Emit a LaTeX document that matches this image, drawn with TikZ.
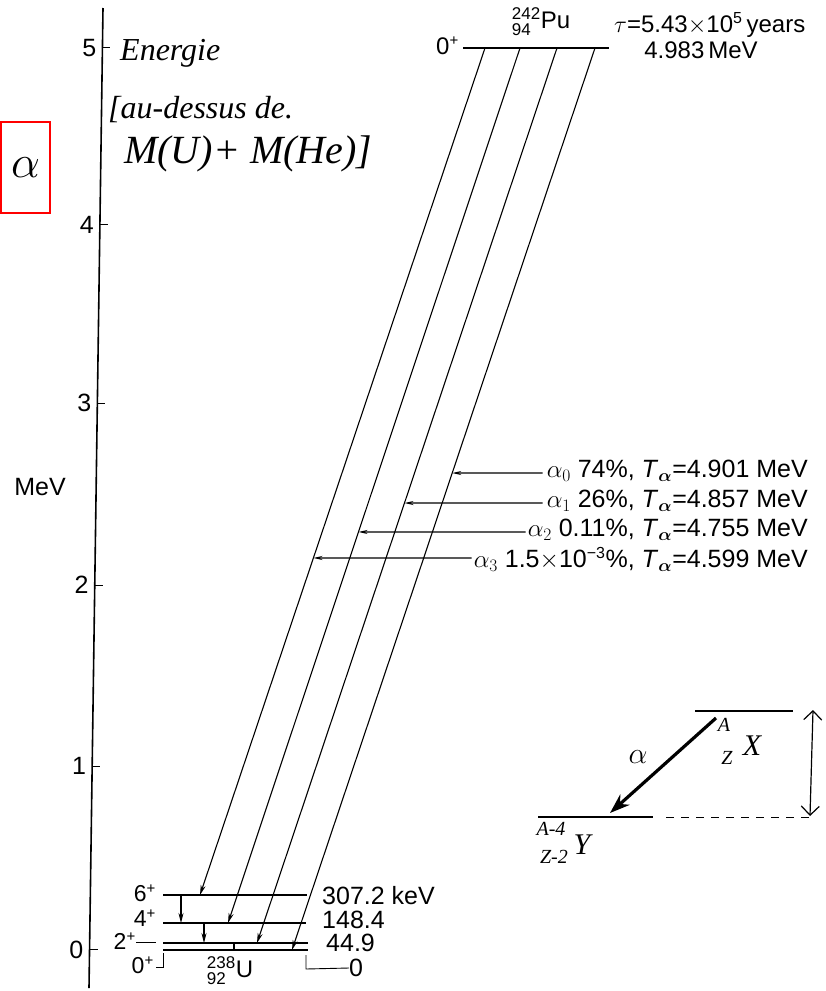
\RequirePackage{fix-cm}
\documentclass[tikz,border=0pt]{standalone}
\usepackage{amsmath}
\usepackage{fontspec}
\setmainfont{Liberation Sans}
\newfontfamily\handfont{Liberation Serif}
\usetikzlibrary{arrows.meta,calc}
\newcommand\fs[1]{\fontsize{#1}{#1}\selectfont}
\newcommand\nucl[3]{$^{\hbox{\fs{17}#1}}_{\hbox{\fs{17}#2}}$#3}
\tikzset{
  lvl/.style={line width=2.2pt},
  decay/.style={line width=1.1pt,-{Stealth[length=10pt,width=5pt]}},
  ann/.style={line width=1.3pt,-{Stealth[length=9pt,width=4pt]}},
  lab/.style={font=\fs{25}, inner sep=0pt},
  alab/.style={font=\fs{25}, inner sep=0pt, anchor=east},
  hand/.style={font=\handfont\itshape, inner sep=0pt},
  tick/.style={line width=1pt}
}
\begin{document}
\begin{tikzpicture}[x=1pt,y=-1pt]
\useasboundingbox (0,0) rectangle (826,991);
% axis
\coordinate (axtop) at (103,8);
\coordinate (axbot) at (89,988);
\draw[line width=1.6pt] (axtop) -- (axbot);
\foreach \t/\v in {0.0408/5,0.2214/4,0.4031/3,0.5888/2,0.7735/1,0.9612/0}{
  \coordinate (tk\v) at ($(axtop)!\t!(axbot)$);
  \draw[tick] (tk\v) -- ++(8,0);
  \node[lab,anchor=east] (tl\v) at ($(tk\v)+(-6,0)$) {\v};
}
\node[lab] (mev) at (40,487) {MeV};
% red box
\node[draw=red,line width=1.8pt,minimum width=49pt,minimum height=91pt,inner sep=0pt] (abox) at (25.5,167.5) {\fontsize{46}{46}\selectfont$\alpha$};
% handwritten
\node[hand,anchor=base west,font=\handfont\itshape\fs{32}] (energie) at (120,60) {Energie};
\node[hand,anchor=base west,font=\handfont\itshape\fs{32}] (audessus) at (108,118) {[au-dessus de.};
\node[hand,anchor=base west,font=\handfont\itshape\fs{40}] (mumhe) at (124,163) {M(U)+ M(He)]};
% Pu level
\coordinate (puL) at (463,48);
\coordinate (puR) at (609,48);
\draw[lvl] (puL) -- (puR);
\node[lab,anchor=east,font=\fs{24}] (pu0p) at (459,46) {0$^{\hbox{\fs{15}+}}$};
\node[lab,font=\fs{24}] (puname) at (541,22) {\nucl{242}{94}{Pu}};
\node[lab,anchor=base west,font=\fs{24}] (tau) at (614,32) {$\tau$=5.43$\times$10$^{\hbox{\fs{16}5}}$\,years};
\node[lab,font=\fs{24}] (puE) at (701,50) {4.983\,MeV};
% U levels
\draw[lvl] (163,895) coordinate (l6L) -- (307,895) coordinate (l6R);
\draw[lvl] (163,923) coordinate (l4L) -- (306,923) coordinate (l4R);
\draw[lvl] (163,943) coordinate (l2L) -- (308,943) coordinate (l2R);
\draw[lvl] (163,950) coordinate (l0L) -- (308,950) coordinate (l0R);
% decay lines
\coordinate (p3) at (485,48); \coordinate (p2) at (520,48);
\coordinate (p1) at (557,48); \coordinate (p0) at (595,48);
\coordinate (e3) at (200,895); \coordinate (e2) at (228,923);
\coordinate (e1) at (257,943); \coordinate (e0) at (292,950);
\draw[decay] (p0) -- (e0);
\draw[decay] (p1) -- (e1);
\draw[decay] (p2) -- (e2);
\draw[decay] (p3) -- (e3);
% gamma transitions
\draw[decay] (181,895) -- (181,923);
\draw[decay] (204,923) -- (204,943);
\draw[line width=1.1pt] (234,943) -- (234,950);
% level labels left
\node[lab,anchor=east,font=\fs{23}] (s6) at (156,893) {6$^{\hbox{\fs{15}+}}$};
\node[lab,anchor=east,font=\fs{23}] (s4) at (156,918) {4$^{\hbox{\fs{15}+}}$};
\node[lab,anchor=east,font=\fs{23}] (s2) at (136,941) {2$^{\hbox{\fs{15}+}}$};
\draw[line width=0.9pt] (s2.east) ++(0,1) -- (156,942);
\node[lab,anchor=east,font=\fs{23}] (s0) at (154,965) {0$^{\hbox{\fs{15}+}}$};
\draw[line width=0.9pt] (163,953) -- (163,967) -- (156,967);
% level labels right
\node[lab,anchor=west] (r6) at (322,896) {307.2 keV};
\node[lab,anchor=west] (r4) at (322,920) {148.4};
\node[lab,anchor=west] (r2) at (326,943) {44.9};
\node[lab,anchor=west] (r0) at (349,968) {0};
\draw[line width=0.9pt] (306,955) -- (306,969) -- (r0.west);
\node[lab,font=\fs{24}] (uname) at (230,971) {\nucl{238}{92}{U}};
% branch annotations
\coordinate (h0) at ($(p0)!0.4712!(e0)$);
\coordinate (h1) at ($(p1)!0.5084!(e1)$);
\coordinate (h2) at ($(p2)!0.5531!(e2)$);
\coordinate (h3) at ($(p3)!0.6021!(e3)$);
\node[alab] (a0) at (808,471) {$\alpha_0$ 74\%, \textit{T}$_{\boldsymbol\alpha}$=4.901 MeV};
\node[alab] (a1) at (808,501) {$\alpha_1$ 26\%, \textit{T}$_{\boldsymbol\alpha}$=4.857 MeV};
\node[alab] (a2) at (808,530) {$\alpha_2$ 0.11\%, \textit{T}$_{\boldsymbol\alpha}$=4.755 MeV};
\node[alab] (a3) at (808,559) {$\alpha_3$ 1.5$\times$10$^{\hbox{\fs{16}\char"2212 3}}$\%, \textit{T}$_{\boldsymbol\alpha}$=4.599 MeV};
\draw[ann] ([xshift=-4pt,yshift=-2pt]a0.west) -- (h0);
\draw[ann] ([xshift=-4pt,yshift=-2pt]a1.west) -- (h1);
\draw[ann] ([xshift=-2pt,yshift=-2pt]a2.west) -- (h2);
\draw[ann] ([xshift=-2pt,yshift=1pt]a3.west) -- (h3);
% sketch bottom right
\draw[line width=2.4pt] (695,711) coordinate (xL) -- (793,711) coordinate (xR);
\draw[line width=2.4pt] (538,817) coordinate (yL) -- (653,817) coordinate (yR);
\draw[line width=1pt,dash pattern=on 8pt off 7pt] (666,817) -- (810,817) coordinate (dR);
\draw[line width=3.2pt,-{Stealth[length=20pt,width=14pt]}] (716,718) coordinate (ast) -- (610,813) coordinate (aen);
\draw[line width=1.2pt,{Straight Barb[length=9pt]}-{Straight Barb[length=9pt]}] (813,710) -- (810,816);
\node[hand,font=\handfont\itshape\fs{30}] (alsk) at (638,757) {$\alpha$};
\node[hand,font=\handfont\itshape\fs{20}] (xA) at (724,725) {A};
\node[hand,font=\handfont\itshape\fs{20}] (xZ) at (727,758) {Z};
\node[hand,font=\handfont\itshape\fs{30}] (xX) at (752,746) {X};
\node[hand,font=\handfont\itshape\fs{20}] (yA) at (551,829) {A-4};
\node[hand,font=\handfont\itshape\fs{20}] (yZ) at (554,857) {Z-2};
\node[hand,font=\handfont\itshape\fs{30}] (yY) at (582,845) {Y};
\end{tikzpicture}
\end{document}
